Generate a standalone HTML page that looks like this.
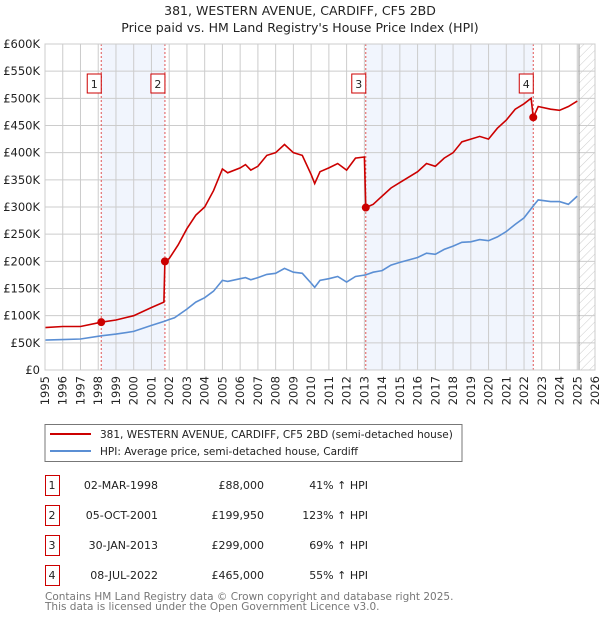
<!DOCTYPE html>
<html><head><meta charset="utf-8"><style>
body{margin:0;background:#fff;font-family:"DejaVu Sans","Liberation Sans",sans-serif;}
svg text{font-family:"DejaVu Sans","Liberation Sans",sans-serif;}
</style></head><body>
<svg id="c" width="600" height="620" xmlns="http://www.w3.org/2000/svg">
<defs><pattern id="hatch" width="6" height="6" patternUnits="userSpaceOnUse" patternTransform="rotate(45)"><line x1="0" y1="0" x2="0" y2="6" stroke="#ccc" stroke-width="1"/></pattern></defs>
<text x="300" y="15" text-anchor="middle" font-size="12.5" fill="#222">381, WESTERN AVENUE, CARDIFF, CF5 2BD</text>
<text x="300" y="32" text-anchor="middle" font-size="12.5" fill="#222">Price paid vs. HM Land Registry's House Price Index (HPI)</text>
<g id="plot"></g>
<rect x="45" y="424.5" width="417" height="37" fill="#fff" stroke="#777"/>
<line x1="50" y1="434" x2="91" y2="434" stroke="#cc0000" stroke-width="2"/>
<text x="100" y="438" font-size="10.5" fill="#222">381, WESTERN AVENUE, CARDIFF, CF5 2BD (semi-detached house)</text>
<line x1="50" y1="451" x2="91" y2="451" stroke="#5b8fd4" stroke-width="2"/>
<text x="100" y="455" font-size="10.5" fill="#222">HPI: Average price, semi-detached house, Cardiff</text>
<g id="table"></g>
<text x="45" y="600" font-size="10.5" fill="#777">Contains HM Land Registry data © Crown copyright and database right 2025.</text>
<text x="45" y="610" font-size="10.5" fill="#777">This data is licensed under the Open Government Licence v3.0.</text>
</svg>
<script>
const years=[1995,1996,1997,1998,1999,2000,2001,2002,2003,2004,2005,2006,2007,2008,2009,2010,2011,2012,2013,2014,2015,2016,2017,2018,2019,2020,2021,2022,2023,2024,2025,2026];
const yTicks=[0,50,100,150,200,250,300,350,400,450,500,550,600];
const priceT=[1995,1996,1997,1998.17,1999,2000,2001,2001.7,2001.76,2002,2002.5,2003,2003.5,2004,2004.5,2005,2005.3,2006,2006.3,2006.6,2007,2007.5,2008,2008.5,2009,2009.5,2010,2010.2,2010.5,2011,2011.5,2012,2012.5,2013.0,2013.08,2013.5,2014,2014.5,2015,2016,2016.5,2017,2017.5,2018,2018.5,2019,2019.5,2020,2020.5,2021,2021.5,2022,2022.4,2022.52,2022.8,2023.5,2024,2024.5,2025];
const priceV=[78,80,80,88,92,100,115,125,199.95,205,230,260,285,300,330,370,363,372,378,368,375,395,400,415,400,395,360,343,365,372,380,368,390,392,299,305,320,335,345,365,380,375,390,400,420,425,430,425,445,460,480,490,500,465,485,480,478,485,495];
const hpiT=[1995,1996,1997,1998.17,1999,2000,2001,2001.76,2002,2002.3,2003,2003.5,2004,2004.5,2005,2005.3,2006,2006.3,2006.6,2007,2007.5,2008,2008.5,2009,2009.5,2010,2010.2,2010.5,2011,2011.5,2012,2012.5,2013.08,2013.5,2014,2014.5,2015,2016,2016.5,2017,2017.5,2018,2018.5,2019,2019.5,2020,2020.5,2021,2021.5,2022,2022.52,2022.8,2023.5,2024,2024.5,2025];
const hpiV=[55,56,57,63,66,71,82,90,93,96,112,125,133,145,165,163,168,170,166,170,176,178,187,180,178,160,152,165,168,172,162,172,175,180,183,193,198,207,215,213,222,228,235,236,240,238,245,255,268,280,302,313,310,310,305,320];
const saleT=[1998.17,2001.76,2013.08,2022.52];
const saleV=[88,199.95,299,465];
const saleLabels=["1","2","3","4"];
const saleDates=["02-MAR-1998","05-OCT-2001","30-JAN-2013","08-JUL-2022"];
const salePrices=["£88,000","£199,950","£299,000","£465,000"];
const saleHpi=["41% ↑ HPI","123% ↑ HPI","69% ↑ HPI","55% ↑ HPI"];
const NS="http://www.w3.org/2000/svg";
const X0=45,X1=595,Y0=370,Y1=44;
const xs=t=>X0+(t-1995)/(2026-1995)*(X1-X0);
const ys=v=>Y0-v/600*(Y0-Y1);
const g=document.getElementById('plot');
function mk(tag,attrs,parent){const e=document.createElementNS(NS,tag);for(const k in attrs)e.setAttribute(k,attrs[k]);(parent||g).appendChild(e);return e;}
let e;
e=mk('rect',{x:X0,y:Y1,width:X1-X0,height:Y0-Y1,fill:'#fff'});


[[0,1],[2,3]].forEach(p=>{
 e=mk('rect',{x:xs(saleT[p[0]]),y:Y1,width:xs(saleT[p[1]])-xs(saleT[p[0]]),height:Y0-Y1,fill:'#eef3fc',opacity:0.8});
 
 
});
e=mk('rect',{x:xs(2025.1),y:Y1,width:X1-xs(2025.1),height:Y0-Y1,fill:'url(#hatch)'});


years.forEach(y=>{
 e=mk('line',{x1:xs(y),x2:xs(y),y1:Y1,y2:Y0,stroke:'#ccc','stroke-width':1});
 
 
 const t=mk('text',{x:0,y:0,'font-size':11.5,fill:'#222','text-anchor':'end',transform:`translate(${xs(y)+4},376) rotate(-90)`});
 t.textContent=y;
 
 
});
yTicks.forEach(v=>{
 e=mk('line',{x1:X0,x2:X1,y1:ys(v),y2:ys(v),stroke:'#ccc','stroke-width':1});
 
 
 const t=mk('text',{x:40,y:ys(v)+4,'font-size':11.5,fill:'#222','text-anchor':'end'});
 t.textContent=v===0?'£0':'£'+v+'K';
 
 
});
e=mk('line',{x1:xs(2025.1),x2:xs(2025.1),y1:Y1,y2:Y0,stroke:'#999','stroke-width':1});


saleT.forEach((t,i)=>{
 e=mk('line',{x1:xs(t),x2:xs(t),y1:Y1,y2:Y0,stroke:'#e05555','stroke-width':1,'stroke-dasharray':'2,2'});
 
 
});
const pts=(T,V)=>T.map((t,i)=>xs(t).toFixed(1)+','+ys(V[i]).toFixed(1)).join(' ');
e=mk('polyline',{points:pts(hpiT,hpiV),fill:'none',stroke:'#5b8fd4','stroke-width':1.6});


e=mk('polyline',{points:pts(priceT,priceV),fill:'none',stroke:'#cc0000','stroke-width':1.6});


saleT.forEach((t,i)=>{
 e=mk('circle',{cx:xs(t),cy:ys(saleV[i]),r:4,fill:'#cc0000'});
 
 
 const bx=xs(t)-14;
 e=mk('rect',{x:bx,y:74,width:14,height:19,fill:'#fff',stroke:'#cc0000'});
 
 
 const tx=mk('text',{x:bx+7,y:88,'font-size':11,fill:'#222','text-anchor':'middle'});
 tx.textContent=saleLabels[i];
 
 
});
e=mk('rect',{x:X0,y:Y1,width:X1-X0,height:Y0-Y1,fill:'none',stroke:'#ccc'});


const tb=document.getElementById('table');
saleLabels.forEach((l,i)=>{
 const y=475+i*30;
 e=mk('rect',{x:45.5,y:y+0.5,width:14,height:20,fill:'#fff',stroke:'#cc0000'},tb);
 
 
 const cells=[[52,'middle',l],[158,'end',saleDates[i]],[264,'end',salePrices[i]],[368,'end',saleHpi[i]]];
 cells.forEach(c=>{
  const t=mk('text',{x:c[0],y:y+14,'font-size':11,fill:'#222','text-anchor':c[1]},tb);
  t.textContent=c[2];
  
  
 });
});
</script>
</body></html>
